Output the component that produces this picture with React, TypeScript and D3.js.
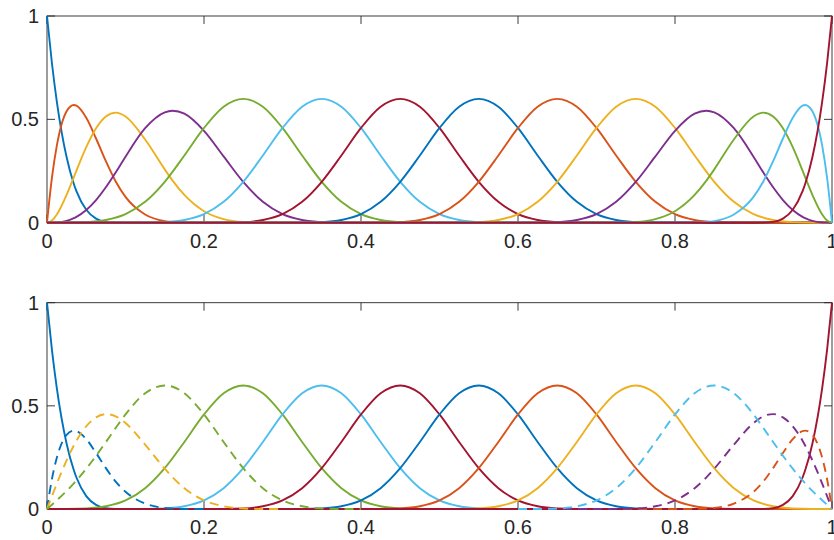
import React from 'react';
import * as d3 from 'd3';

const width = 834;
const height = 540;
const plotLeft = 47;
const plotRight = 832;
// two stacked axes (top / bottom pixel rows)
const panels = [
  { top: 16, bottom: 222.7 },
  { top: 302.7, bottom: 509 }
];

const xTicks = [0, 0.2, 0.4, 0.6, 0.8, 1];
const yTicks = [0, 0.5, 1];

// matlab default line colours
const blue = '#0072BD';
const orange = '#D95319';
const yellow = '#EDB120';
const purple = '#7E2F8E';
const green = '#77AC30';
const cyan = '#4DBEEE';
const red = '#A2142F';

// boundary curves, read at these x positions (left end; the right end is the mirror)
const edgeX = [0, 0.00625, 0.0125, 0.025, 0.0342, 0.0375, 0.05, 0.0625, 0.075, 0.0875, 0.1, 0.125,
  0.15, 0.16, 0.175, 0.2, 0.225, 0.25, 0.275, 0.3, 0.325, 0.35, 0.375, 0.4];
const edgeFirst = [1, 0.7725, 0.5862, 0.3164, 0.1875, 0.1526, 0.0625, 0.0198, 0.0039, 0.0002, 0, 0,
  0, 0, 0, 0, 0, 0, 0, 0, 0, 0, 0, 0];
const edgeSecond = [0, 0.2166, 0.3726, 0.5396, 0.5697, 0.5664, 0.5078, 0.4073, 0.2974, 0.1997, 0.125, 0.0396,
  0.0078, 0.0032, 0.0005, 0, 0, 0, 0, 0, 0, 0, 0, 0];
const edgeThird = [0, 0.0108, 0.04, 0.1348, 0.2204, 0.2519, 0.3655, 0.4568, 0.5142, 0.5325, 0.5139, 0.4024,
  0.2578, 0.2038, 0.1342, 0.0556, 0.0176, 0.0035, 0.0002, 0, 0, 0, 0, 0];
const edgeFourth = [0, 0.0002, 0.0012, 0.0091, 0.0219, 0.0283, 0.0616, 0.1098, 0.1714, 0.2431, 0.3194, 0.457,
  0.5339, 0.5415, 0.5273, 0.4444, 0.3205, 0.197, 0.1009, 0.0417, 0.0132, 0.0026, 0.0002, 0];
// dashed curves of the lower panel
const dashLow = [0, 0.1444, 0.2484, 0.3597, 0.3798, 0.3776, 0.3385, 0.2715, 0.1983, 0.1331, 0.0833, 0.0264,
  0.0052, 0.0021, 0.0003, 0, 0, 0, 0, 0, 0, 0, 0, 0];
const dashMid = [0, 0.0623, 0.1231, 0.2361, 0.3077, 0.3306, 0.4011, 0.4444, 0.46, 0.4493, 0.4167, 0.3117,
  0.1953, 0.1537, 0.1008, 0.0417, 0.0132, 0.0026, 0.0002, 0, 0, 0, 0, 0];
const dashWide = [0, 0.0209, 0.0423, 0.0877, 0.1245, 0.1384, 0.1953, 0.258, 0.3247, 0.3929, 0.4583, 0.5609,
  0.599, 0.5927, 0.5609, 0.4583, 0.3249, 0.1979, 0.1009, 0.0417, 0.0132, 0.0026, 0.0002, 0];

// interior bump, read relative to where it starts
const bumpX = [0, 0.025, 0.05, 0.075, 0.1, 0.125, 0.15, 0.175, 0.2, 0.225, 0.25, 0.275, 0.3, 0.325, 0.35,
  0.375, 0.4, 0.425, 0.45, 0.475, 0.5];
const bumpY = [0, 0.0002, 0.0026, 0.0132, 0.0417, 0.1009, 0.1979, 0.3249, 0.4583, 0.5609, 0.599, 0.5609,
  0.4583, 0.3249, 0.1979, 0.1009, 0.0417, 0.0132, 0.0026, 0.0002, 0];
const bumpStarts = [0, 0.1, 0.2, 0.3, 0.4, 0.5];
const bumpColors = [green, cyan, red, blue, orange, yellow];

type Series = { xs: number[], ys: number[], mirror?: boolean, color: string, dashed?: boolean };

const bumps: Series[] = bumpStarts.map((s, i) => ({ xs: bumpX.map(d => d + s), ys: bumpY, color: bumpColors[i] }));

const topSeries: Series[] = [
  { xs: edgeX, ys: edgeFirst, color: blue },
  { xs: edgeX, ys: edgeSecond, color: orange },
  { xs: edgeX, ys: edgeThird, color: yellow },
  { xs: edgeX, ys: edgeFourth, color: purple },
  ...bumps,
  { xs: edgeX, ys: edgeFourth, mirror: true, color: purple },
  { xs: edgeX, ys: edgeThird, mirror: true, color: green },
  { xs: edgeX, ys: edgeSecond, mirror: true, color: cyan },
  { xs: edgeX, ys: edgeFirst, mirror: true, color: red }
];

const bottomSeries: Series[] = [
  { xs: edgeX, ys: edgeFirst, color: blue },
  ...bumps,
  { xs: edgeX, ys: edgeFirst, mirror: true, color: red },
  { xs: edgeX, ys: dashLow, color: blue, dashed: true },
  { xs: edgeX, ys: dashLow, mirror: true, color: orange, dashed: true },
  { xs: edgeX, ys: dashMid, color: yellow, dashed: true },
  { xs: edgeX, ys: dashMid, mirror: true, color: purple, dashed: true },
  { xs: edgeX, ys: dashWide, color: green, dashed: true },
  { xs: edgeX, ys: dashWide, mirror: true, color: cyan, dashed: true }
];

const xScale = d3.scaleLinear().domain([0, 1]).range([plotLeft, plotRight]);

//solid lines run over the whole axis, dashed ones only where they are non zero
function toPoints(s: Series): [number, number][] {
  let pts: [number, number][] = s.xs.map((x, i) => [s.mirror ? 1 - x : x, s.ys[i]]);
  if (s.dashed) {
    const ordered = s.mirror ? pts.slice().reverse() : pts;
    let last = 0;
    ordered.forEach((p, i) => { if (p[1] > 0) last = i; });
    pts = ordered.slice(0, last + 2);
  } else {
    pts.push([0, 0], [1, 0]);
  }
  pts.sort((a, b) => a[0] - b[0]);
  return pts.filter((p, i) => i === 0 || p[0] !== pts[i - 1][0]);
}

function Panel({ top, bottom, series }: { top: number, bottom: number, series: Series[] }) {
  const yScale = d3.scaleLinear().domain([0, 1]).range([bottom, top]);
  const line = d3.line<[number, number]>()
    .x(d => xScale(d[0]))
    .y(d => yScale(d[1]))
    .curve(d3.curveMonotoneX);
  const tickLen = 8;
  const axisColor = '#262626';
  return (
    <g>
      <rect x={plotLeft} y={top} width={plotRight - plotLeft} height={bottom - top}
        fill="none" stroke={axisColor} strokeWidth={0.9} />
      {xTicks.map(t => (
        <g key={'x' + t}>
          <line x1={xScale(t)} x2={xScale(t)} y1={bottom} y2={bottom - tickLen} stroke={axisColor} strokeWidth={0.9} />
          <line x1={xScale(t)} x2={xScale(t)} y1={top} y2={top + tickLen} stroke={axisColor} strokeWidth={0.9} />
          <text x={xScale(t)} y={bottom + 25} textAnchor="middle" fontSize={20} fill={axisColor}>{String(t)}</text>
        </g>
      ))}
      {yTicks.map(t => (
        <g key={'y' + t}>
          <line x1={plotLeft} x2={plotLeft + tickLen} y1={yScale(t)} y2={yScale(t)} stroke={axisColor} strokeWidth={0.9} />
          <line x1={plotRight} x2={plotRight - tickLen} y1={yScale(t)} y2={yScale(t)} stroke={axisColor} strokeWidth={0.9} />
          <text x={plotLeft - 8} y={yScale(t) + 7} textAnchor="end" fontSize={20} fill={axisColor}>{String(t)}</text>
        </g>
      ))}
      {series.map((s, i) => (
        <path key={i} d={line(toPoints(s)) || ''} fill="none" stroke={s.color} strokeWidth={1.9}
          strokeDasharray={s.dashed ? '9,6' : undefined} />
      ))}
    </g>
  );
}

export default function App() {
  return (
    <svg width={width} height={height} style={{ position: 'absolute', left: 0, top: 0, background: '#fff' }}
      fontFamily="'Liberation Sans', Arial, Helvetica, sans-serif">
      <Panel top={panels[0].top} bottom={panels[0].bottom} series={topSeries} />
      <Panel top={panels[1].top} bottom={panels[1].bottom} series={bottomSeries} />
    </svg>
  );
}
